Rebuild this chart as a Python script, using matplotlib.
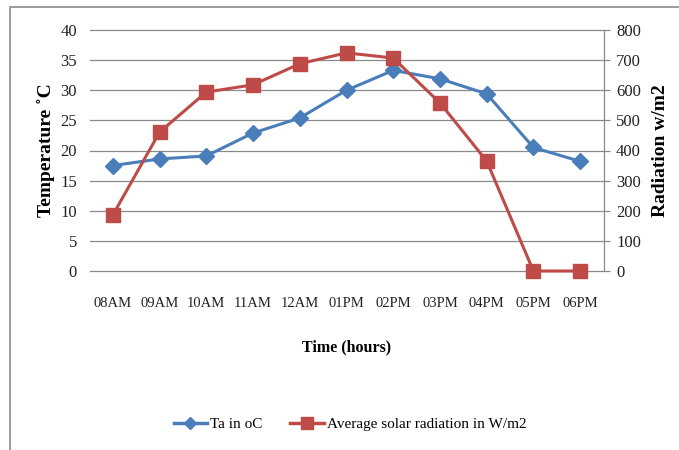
import matplotlib
matplotlib.use("Agg")
import matplotlib.pyplot as plt
from matplotlib.lines import Line2D
from matplotlib.patches import Rectangle

hours = ["08AM", "09AM", "10AM", "11AM", "12AM", "01PM", "02PM", "03PM", "04PM", "05PM", "06PM"]
temperature = [17.5, 18.6, 19.1, 22.9, 25.4, 30.0, 33.3, 31.9, 29.4, 20.5, 18.2]
radiation = [186, 461, 594, 618, 688, 724, 707, 558, 365, 0, 0]
temp_ticks = [0, 5, 10, 15, 20, 25, 30, 35, 40]
rad_ticks = [0, 100, 200, 300, 400, 500, 600, 700, 800]

plt.rcParams['font.family'] = ['Liberation Serif', 'DejaVu Serif']

W, H = 679, 450
fig = plt.figure(figsize=(W / 100, H / 100), dpi=100)

# outer frame
fig.add_artist(Rectangle((10 / W, -0.1), 1.2, (H - 7) / H + 0.1, transform=fig.transFigure,
                         fill=False, edgecolor='#8c8c8c', linewidth=1.2))

ax = fig.add_axes([89.5 / W, 179 / H, (603.5 - 89.5) / W, 241 / H])
ax2 = ax.twinx()

blue = '#4A7EBB'
red = '#BE4B48'
grid = '#8a8a8a'

x = list(range(len(hours)))
ax.plot(x, temperature, color=blue, lw=2.2, marker='D', ms=8, zorder=3, clip_on=False)
ax2.plot(x, radiation, color=red, lw=2.2, marker='s', ms=10, zorder=3, clip_on=False)

ax.set_xlim(-0.5, len(hours) - 0.5)
ax.set_ylim(0, 40)
ax2.set_ylim(0, 800)
ax.set_yticks(temp_ticks)
ax2.set_yticks(rad_ticks)
ax.set_xticks(x)
ax.set_xticklabels(hours)

ax.grid(axis='y', color=grid, lw=0.9)
for gl in ax.get_ygridlines():
    gl.set_clip_on(False)
ax.set_axisbelow(True)
for s in ['top', 'bottom', 'left', 'right']:
    ax.spines[s].set_visible(False)
for s in ['top', 'bottom', 'left']:
    ax2.spines[s].set_visible(False)
ax2.spines['right'].set_color(grid)
ax2.spines['right'].set_linewidth(0.9)

ax.tick_params(axis='y', length=0, pad=9, labelsize=12, colors='#222222')
ax.tick_params(axis='x', length=0, pad=19, labelsize=10.5, colors='#222222')
ax2.tick_params(axis='y', length=4, width=0.9, color=grid, pad=5, labelsize=12, labelcolor='#222222')

ax.set_ylabel('Temperature ˚C', fontsize=14, fontweight='bold', labelpad=4)
ax2.set_ylabel('Radiation w/m2', fontsize=14, fontweight='bold', labelpad=8)
ax.set_xlabel('Time (hours)', fontsize=11.5, fontweight='bold', labelpad=21)

handles = [Line2D([0], [0], color=blue, lw=2.5, marker='D', ms=6),
           Line2D([0], [0], color=red, lw=2.5, marker='s', ms=8)]
fig.legend(handles, ['Ta in oC', 'Average solar radiation in W/m2'], loc='center',
           bbox_to_anchor=(350 / W, 1 - 424 / H), ncol=2, frameon=False,
           fontsize=11, handlelength=2.2, handletextpad=0.2, columnspacing=1.8)

fig.savefig('out.png', dpi=100)
